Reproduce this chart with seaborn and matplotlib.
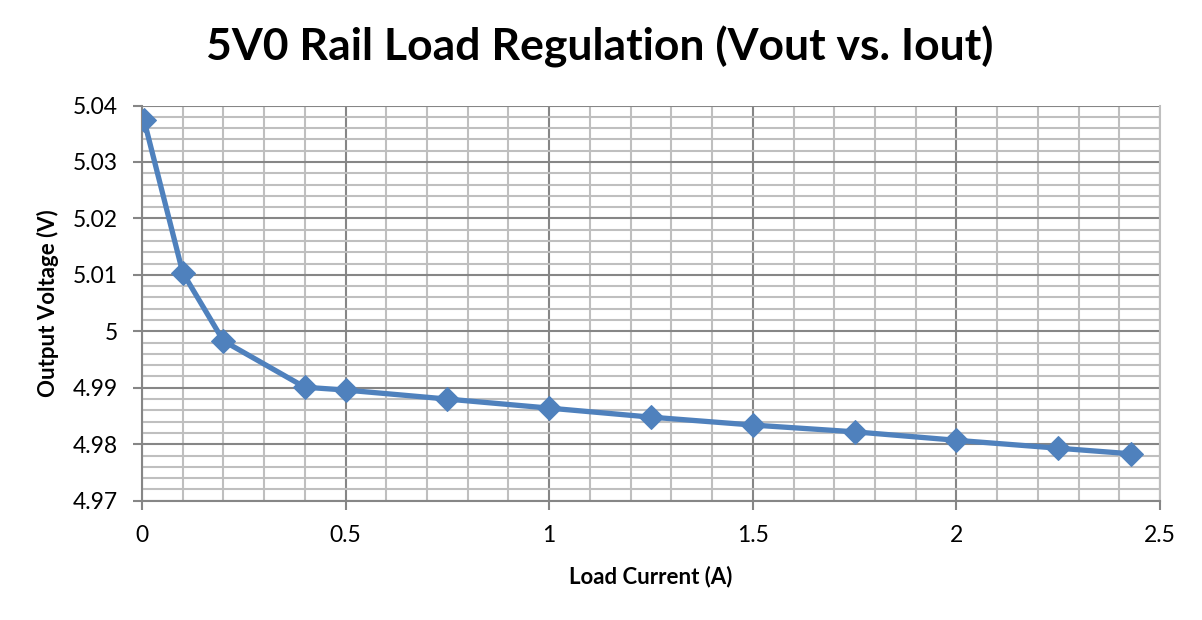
import matplotlib
matplotlib.use("Agg")
import matplotlib.pyplot as plt
import seaborn as sns
import pandas as pd
from matplotlib.ticker import MultipleLocator, FuncFormatter

load_current = [0.005, 0.1, 0.2, 0.4, 0.5, 0.75, 1.0, 1.25, 1.5, 1.75, 2.0, 2.25, 2.43]
output_voltage = [5.0374, 5.0104, 4.9983, 4.9901, 4.9896, 4.9880, 4.9864, 4.9848,
                  4.9834, 4.9822, 4.9807, 4.9793, 4.9783]

title = "5V0 Rail Load Regulation (Vout vs. Iout)"
xlabel = "Load Current (A)"
ylabel = "Output Voltage (V)"

df = pd.DataFrame({"I": load_current, "V": output_voltage})

sns.set_theme(style="white")
plt.rcParams['font.family'] = ['Lato', 'DejaVu Sans']
plt.rcParams['text.color'] = 'black'
plt.rcParams['axes.labelcolor'] = 'black'

fig = plt.figure(figsize=(12.02, 6.2), dpi=100)
ax = fig.add_axes([142/1202, 1 - 500.7/620, (1160-142)/1202, (500.7-105.5)/620])

sns.lineplot(data=df, x="I", y="V", ax=ax, color="#4F81BD", linewidth=3.8,
             marker="D", markersize=12, markeredgecolor="#4F81BD", zorder=5)

ax.set_xlim(0, 2.5)
ax.set_ylim(4.97, 5.04)
ax.xaxis.set_major_locator(MultipleLocator(0.5))
ax.xaxis.set_minor_locator(MultipleLocator(0.1))
ax.yaxis.set_major_locator(MultipleLocator(0.01))
ax.yaxis.set_minor_locator(MultipleLocator(0.002))

def fmt(v, pos):
    s = f"{v:.2f}".rstrip("0").rstrip(".")
    return s
ax.xaxis.set_major_formatter(FuncFormatter(fmt))
ax.yaxis.set_major_formatter(FuncFormatter(fmt))

ax.grid(which="major", color="#868686", linewidth=1.5)
ax.grid(which="minor", color="#BFBFBF", linewidth=1.5)
ax.set_axisbelow(True)

ax.spines["top"].set_visible(False)
ax.spines["right"].set_color("#BFBFBF")
ax.spines["left"].set_color("#868686")
ax.spines["bottom"].set_color("#868686")
for s in ["left", "bottom", "right"]:
    ax.spines[s].set_linewidth(1.5)

ax.tick_params(axis="both", which="major", direction="out", length=6.5, width=1.5,
               color="#868686", labelsize=16.5, labelcolor="black",
               bottom=True, left=True)
ax.tick_params(axis="y", which="major", pad=11)
ax.tick_params(axis="x", which="major", pad=11)
ax.tick_params(axis="both", which="minor", length=0)

ax.set_xlabel(xlabel, fontsize=16, fontweight="bold", labelpad=14, color="black")
ax.set_ylabel(ylabel, fontsize=16, fontweight="bold", labelpad=10, color="black")

fig.text(600/1202, 1 - 47/620, title, ha="center", va="center",
         fontsize=32, fontweight="bold", color="black")

fig.savefig("out.png", dpi=100)
